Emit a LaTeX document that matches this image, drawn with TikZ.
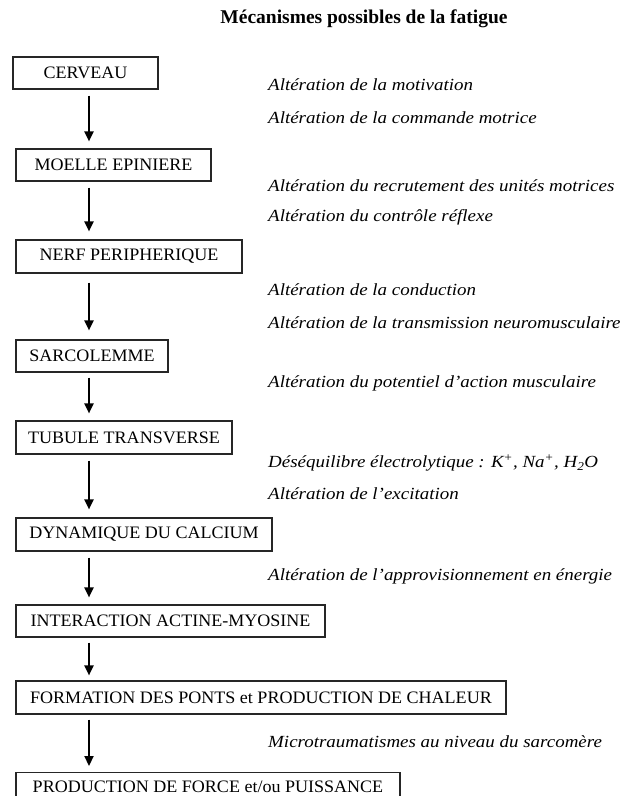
\documentclass[tikz,border=0pt]{standalone}
\usepackage{fontspec}
\setmainfont{Liberation Serif}
\newfontfamily\labfont[FakeStretch=1.115]{Liberation Serif}
\newfontfamily\boxfont[FakeStretch=1.03]{Liberation Serif}
\usetikzlibrary{arrows.meta}
\tikzset{
  stepbox/.style={draw=black!85, line width=1.1pt, inner sep=0pt, align=center,
    font=\boxfont\fontsize{17.5}{20}\selectfont},
  lab/.style={anchor=west, inner sep=0pt, font=\labfont\itshape\fontsize{17}{20}\selectfont},
  arr/.style={-{Triangle[length=10pt,width=9pt]}, line width=2.2pt},
  ttl/.style={inner sep=0pt, font=\bfseries\fontsize{19.5}{22}\selectfont}
}
\begin{document}
\begin{tikzpicture}[x=1pt,y=-1pt]
\useasboundingbox (0,0) rectangle (625,796);
\clip (0,0) rectangle (625,796);
\node[ttl] (title) at (364,19) {Mécanismes possibles de la fatigue};
% boxes
\node[stepbox, minimum width=145pt, minimum height=32pt] (b1) at (85.5,73) {CERVEAU};
\node[stepbox, minimum width=195pt, minimum height=32pt] (b2) at (113.5,165) {MOELLE EPINIERE};
\node[stepbox, minimum width=226pt, minimum height=33pt] (b3) at (129,256.5) {NERF PERIPHERIQUE};
\node[stepbox, minimum width=152pt, minimum height=32pt] (b4) at (92,356) {SARCOLEMME};
\node[stepbox, minimum width=216pt, minimum height=33pt] (b5) at (124,437.5) {TUBULE TRANSVERSE};
\node[stepbox, minimum width=256pt, minimum height=33pt] (b6) at (144,534.5) {DYNAMIQUE DU CALCIUM};
\node[stepbox, minimum width=309pt, minimum height=32pt] (b7) at (170.5,621) {INTERACTION ACTINE-MYOSINE};
\node[stepbox, minimum width=490pt, minimum height=33pt] (b8) at (261,697.5) {FORMATION DES PONTS et PRODUCTION DE CHALEUR};
\node[stepbox, minimum width=384pt, anchor=north, inner ysep=8pt, text height=12pt, text depth=20pt] (b9) at (208,772) {PRODUCTION DE FORCE et/ou PUISSANCE};
% arrows
\coordinate (ax) at (89,0);
\draw[arr, shorten <=6pt, shorten >=7pt] (b1.south -| ax) -- (b2.north -| ax);
\draw[arr, shorten <=6pt, shorten >=8pt] (b2.south -| ax) -- (b3.north -| ax);
\draw[arr, shorten <=9pt, shorten >=9pt] (b3.south -| ax) -- (b4.north -| ax);
\draw[arr, shorten <=5pt, shorten >=7pt] (b4.south -| ax) -- (b5.north -| ax);
\draw[arr, shorten <=6pt, shorten >=8pt] (b5.south -| ax) -- (b6.north -| ax);
\draw[arr, shorten <=6pt, shorten >=7pt] (b6.south -| ax) -- (b7.north -| ax);
\draw[arr, shorten <=5pt, shorten >=5pt] (b7.south -| ax) -- (b8.north -| ax);
\draw[arr, shorten <=5pt, shorten >=6pt] (b8.south -| ax) -- (b9.north -| ax);
% labels
\node[lab] (l1) at (268,85) {Altération de la motivation};
\node[lab] (l2) at (268,118) {Altération de la commande motrice};
\node[lab] (l3) at (268,186) {Altération du recrutement des unités motrices};
\node[lab] (l4) at (268,217) {Altération du contrôle réflexe};
\node[lab] (l5) at (268,290) {Altération de la conduction};
\node[lab] (l6) at (268,323) {Altération de la transmission neuromusculaire};
\node[lab] (l7) at (268,383) {Altération du potentiel d’action musculaire};
\node[lab] (l8) at (268,463) {Déséquilibre électrolytique : K\textsuperscript{+}, Na\textsuperscript{+}, H\textsubscript{2}O};
\node[lab] (l9) at (268,494) {Altération de l’excitation};
\node[lab] (l10) at (268,576) {Altération de l’approvisionnement en énergie};
\node[lab] (l11) at (268,742) {Microtraumatismes au niveau du sarcomère};
\end{tikzpicture}
\end{document}
